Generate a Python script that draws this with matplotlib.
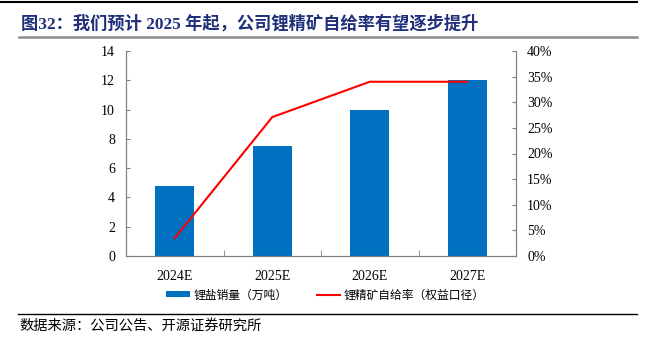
import matplotlib
matplotlib.use("Agg")
import matplotlib.pyplot as plt
from matplotlib.lines import Line2D
from matplotlib.patches import Patch
from matplotlib.ticker import FuncFormatter

categories = ["2024E", "2025E", "2026E", "2027E"]
lithium_salt_sales = [4.8, 7.5, 10.0, 12.0]
self_sufficiency = [3.5, 27.1, 34.0, 34.0]

title = "图32：我们预计 2025 年起，公司锂精矿自给率有望逐步提升"
bar_label = "锂盐销量（万吨）"
line_label = "锂精矿自给率（权益口径）"
source = "数据来源：公司公告、开源证券研究所"

CJK = ["Noto Sans CJK SC", "DejaVu Sans"]
SERIF_CJK = ["Liberation Serif", "Noto Sans CJK SC", "DejaVu Sans"]
SERIF = ["Liberation Serif", "DejaVu Serif"]

W, H = 646, 346
fig = plt.figure(figsize=(W / 100, H / 100), dpi=100)

def fx(x):
    return x / W

def fy(y):
    return 1 - y / H

ax = fig.add_axes([fx(126), fy(256), fx(516 - 126), (256 - 51) / H])
ax2 = ax.twinx()

x = list(range(len(categories)))
ax.bar(x, lithium_salt_sales, width=0.4, color="#0070C0", zorder=2)
ax2.plot(x, self_sufficiency, color="#FF0000", lw=1.5, zorder=3)

ax.set_xlim(-0.5, len(categories) - 0.5)
ax.set_ylim(0, 14)
ax.set_yticks(range(0, 15, 2))
ax2.set_ylim(0, 40)
ax2.set_yticks(range(0, 41, 5))
ax2.yaxis.set_major_formatter(FuncFormatter(lambda v, p: f"{int(v)}%"))

ax.set_xticks(x)
ax.set_xticklabels(categories)
ax.set_xticks([i + 0.5 for i in x[:-1]], minor=True)
ax.tick_params(axis="x", which="major", length=0, pad=10)
ax.tick_params(axis="x", which="minor", length=4, direction="in", color="#808080")
ax.tick_params(axis="y", length=3, direction="in", color="#808080", pad=8)
ax2.tick_params(axis="y", length=3, direction="in", color="#808080", pad=8)

for a in (ax, ax2):
    a.spines["top"].set_visible(False)
    for s in ("left", "right", "bottom"):
        a.spines[s].set_color("#808080")
    for lab in a.get_xticklabels() + a.get_yticklabels():
        lab.set_family(SERIF)
        lab.set_fontsize(10)
        lab.set_color("#000000")

# Title and decorations
fig.text(fx(21), fy(24), title, family=SERIF_CJK, fontsize=12.4, fontweight="bold",
         color="#1F2F7A", va="center", ha="left")
fig.add_artist(Line2D([fx(0), fx(637)], [fy(1.5), fy(1.5)], color="#000000", lw=1.5))
fig.add_artist(Line2D([fx(19), fx(637)], [fy(37), fy(37)], color="#8C8C8C", lw=1.8))
fig.add_artist(Line2D([fx(18), fx(637)], [fy(314), fy(314)], color="#000000", lw=1.0))
fig.text(fx(19), fy(326), source, family=CJK, fontsize=10.3, color="#000000",
         va="center", ha="left")

handles = [Patch(facecolor="#0070C0", edgecolor="none"),
           Line2D([0], [0], color="#FF0000", lw=1.5)]
leg = fig.legend(handles, [bar_label, line_label], loc="center",
                 bbox_to_anchor=(fx(325.5), fy(295)), ncol=2, frameon=False,
                 prop={"family": CJK, "size": 8.5}, handlelength=2.0,
                 handleheight=0.45, columnspacing=2.5, handletextpad=0.3)

fig.savefig("out.png", dpi=100)
